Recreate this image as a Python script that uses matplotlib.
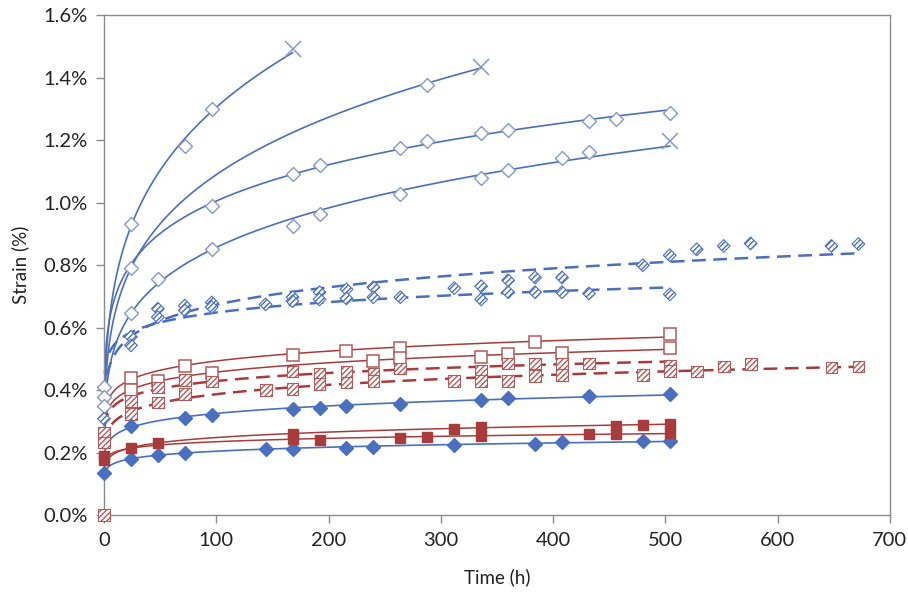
import numpy as np
import matplotlib.pyplot as plt
from matplotlib.ticker import FuncFormatter, MultipleLocator

plt.rcParams['font.family'] = ['Lato', 'DejaVu Sans']
plt.rcParams['hatch.linewidth'] = 1.0

BLUE = '#4a6fbf'
BLUE_PALE = '#8797c6'
RED = '#a83c3c'
RED_PALE = '#b45a5a'

# strain (%) vs time (h); last point of a, b, d is the rupture (X)
a_t = [24, 72, 96, 168]
a_y = [0.93, 1.18, 1.30, 1.49]
b_t = [24, 288, 336]
b_y = [0.79, 1.377, 1.435]
c_t = [96, 168, 192, 264, 288, 336, 360, 432, 456, 504]
c_y = [0.99, 1.09, 1.12, 1.175, 1.197, 1.223, 1.233, 1.262, 1.268, 1.287]
d_t = [24, 48, 96, 168, 192, 264, 336, 360, 408, 432, 504]
d_y = [0.645, 0.755, 0.85, 0.925, 0.963, 1.027, 1.079, 1.104, 1.143, 1.162, 1.197]

# blue dashed, hatched diamonds
e_t = [24, 48, 72, 96, 144, 168, 192, 216, 240, 312, 336, 360, 384, 408, 480, 504, 528, 552, 576, 648, 672]
e_y = [0.57, 0.66, 0.67, 0.68, 0.674, 0.697, 0.713, 0.722, 0.729, 0.726, 0.732, 0.751, 0.76, 0.76, 0.799,
       0.831, 0.85, 0.861, 0.869, 0.861, 0.867]
f_t = [24, 48, 72, 96, 168, 192, 216, 240, 264, 336, 360, 384, 408, 432, 504]
f_y = [0.543, 0.633, 0.655, 0.665, 0.684, 0.69, 0.693, 0.697, 0.697, 0.69, 0.713, 0.713, 0.713, 0.709, 0.706]

# red solid, open squares
g_t = [24, 72, 168, 216, 264, 384, 504]
g_y = [0.437, 0.477, 0.513, 0.524, 0.536, 0.555, 0.578]
h_t = [24, 48, 96, 240, 264, 336, 360, 408, 504]
h_y = [0.40, 0.43, 0.456, 0.494, 0.501, 0.507, 0.514, 0.52, 0.533]

# red dashed, hatched squares
i_t = [24, 48, 72, 96, 168, 192, 216, 240, 264, 336, 360, 384, 408, 432, 504]
i_y = [0.366, 0.408, 0.433, 0.427, 0.459, 0.452, 0.459, 0.452, 0.469, 0.462, 0.485, 0.485, 0.485, 0.485, 0.478]
j_t = [24, 48, 72, 144, 168, 192, 216, 240, 312, 336, 360, 384, 408, 480, 504, 528, 552, 576, 648, 672]
j_y = [0.324, 0.36, 0.388, 0.401, 0.404, 0.42, 0.424, 0.43, 0.43, 0.43, 0.43, 0.446, 0.449, 0.449, 0.46,
       0.459, 0.475, 0.484, 0.472, 0.475]

# blue solid, filled diamonds
k_t = [24, 72, 96, 168, 192, 216, 264, 336, 360, 432, 504]
k_y = [0.286, 0.311, 0.321, 0.34, 0.344, 0.35, 0.356, 0.369, 0.376, 0.382, 0.388]
m_t = [24, 48, 72, 144, 168, 216, 240, 312, 384, 408, 480, 504]
m_y = [0.18, 0.193, 0.199, 0.212, 0.212, 0.215, 0.218, 0.225, 0.228, 0.234, 0.237, 0.237]

# red solid, filled squares
l1_t = [48, 168, 312, 336, 456, 480, 504]
l1_y = [0.231, 0.26, 0.276, 0.282, 0.286, 0.289, 0.292]
l2_t = [24, 168, 192, 264, 288, 336, 432, 456, 504]
l2_y = [0.215, 0.244, 0.241, 0.247, 0.25, 0.254, 0.26, 0.26, 0.263]

# readings at t = 0 (not part of the trend fits)
init_open_diamond = [0.409, 0.377, 0.35]
init_hatch_diamond = [0.308]
init_hatch_square = [0.262, 0.232, 0.0]
init_filled_square = [0.19, 0.176]
init_filled_diamond = [0.133]


def power_trend(t, y):
    # power-law trendline like the spreadsheet one
    b, ln_a = np.polyfit(np.log(t), np.log(y), 1)
    tt = np.geomspace(0.7, max(t), 400)
    return tt, np.exp(ln_a) * tt ** b


fig = plt.figure(figsize=(9.08, 5.93), dpi=100)
ax = fig.add_axes([0.1145, 0.1315, 0.8655, 0.8432])

dash = (5.5, 3.0)

# trend lines
for t, y in [(a_t, a_y), (b_t, b_y), (c_t, c_y), (d_t, d_y), (k_t, k_y), (m_t, m_y)]:
    ax.plot(*power_trend(t, y), color=BLUE, lw=1.2, zorder=2)
for t, y in [(e_t, e_y), (f_t, f_y)]:
    ax.plot(*power_trend(t, y), color=BLUE, lw=1.8, dashes=dash, zorder=2)
for t, y in [(g_t, g_y), (h_t, h_y), (l1_t, l1_y), (l2_t, l2_y)]:
    ax.plot(*power_trend(t, y), color=RED, lw=1.1, zorder=2)
for t, y in [(i_t, i_y), (j_t, j_y)]:
    ax.plot(*power_trend(t, y), color=RED, lw=1.8, dashes=dash, zorder=2)

# open diamonds (last point of a, b, d drawn as X)
for t, y, ends_x in [(a_t, a_y, True), (b_t, b_y, True), (c_t, c_y, False), (d_t, d_y, True)]:
    n = len(t) - 1 if ends_x else len(t)
    ax.plot(t[:n], y[:n], 'D', ms=6.8, mfc='white', mec=BLUE_PALE, mew=1.0, zorder=3)
    if ends_x:
        ax.plot(t[-1], y[-1], 'x', ms=11.5, mec=BLUE_PALE, mew=1.1, zorder=3)
ax.plot([0] * len(init_open_diamond), init_open_diamond, 'D', ms=6.8, mfc='white',
        mec=BLUE_PALE, mew=1.0, zorder=3)

# hatched diamonds
for t, y in [(e_t, e_y), (f_t, f_y), ([0] * len(init_hatch_diamond), init_hatch_diamond)]:
    ax.scatter(t, y, s=42, marker='D', facecolor='white', edgecolor=BLUE, linewidth=0.8,
               hatch='//////', zorder=3)

# open squares
for t, y in [(g_t, g_y), (h_t, h_y)]:
    ax.plot(t, y, 's', ms=8.5, mfc='white', mec=RED_PALE, mew=1.1, zorder=3)

# hatched squares
for t, y in [(i_t, i_y), (j_t, j_y), ([0] * len(init_hatch_square), init_hatch_square)]:
    ax.scatter(t, y, s=72, marker='s', facecolor='white', edgecolor=RED_PALE, linewidth=0.8,
               hatch='//////', zorder=3)

# filled markers
for t, y in [(k_t, k_y), (m_t, m_y), ([0] * len(init_filled_diamond), init_filled_diamond)]:
    ax.plot(t, y, 'D', ms=6.8, color=BLUE, zorder=4)
for t, y in [(l1_t, l1_y), (l2_t, l2_y), ([0] * len(init_filled_square), init_filled_square)]:
    ax.plot(t, y, 's', ms=7.5, color=RED, zorder=4)

ax.set_xlim(0, 700)
ax.set_ylim(0, 1.6)
ax.xaxis.set_major_locator(MultipleLocator(100))
ax.yaxis.set_major_locator(MultipleLocator(0.2))
ax.yaxis.set_major_formatter(FuncFormatter(lambda v, p: f'{v:.1f}%'))

for s in ax.spines.values():
    s.set_color('#8c8c8c')
    s.set_linewidth(1.0)
ax.tick_params(direction='out', length=6, width=1, color='#8c8c8c', labelsize=14.5,
               labelcolor='#222222', pad=6)
ax.set_clip_on(False)
for ln in ax.lines:
    ln.set_clip_on(False)
for c in ax.collections:
    c.set_clip_on(False)

ax.set_xlabel('Time (h)', fontsize=13.5, color='#222222', labelpad=14)
ax.set_ylabel('Strain (%)', fontsize=13.5, color='#222222', labelpad=10)

fig.savefig('out.png', dpi=100)
